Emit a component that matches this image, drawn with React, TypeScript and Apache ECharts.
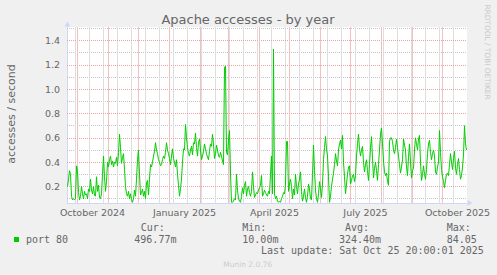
import React, { useEffect, useRef } from "react";
import * as echarts from "echarts";

// ---- data ----
const START_UTC = Date.UTC(2024, 8, 21); // first daily sample: 21 Sep 2024
const DAY_MS = 86400000;

const accesses: number[] = [
  0.20, 0.26, 0.33, 0.30, 0.12, 0.09, 0.10, 0.09, 0.10, 0.37,
  0.33, 0.15, 0.09, 0.12, 0.20, 0.14, 0.10, 0.16, 0.13, 0.14,
  0.10, 0.18, 0.16, 0.26, 0.17, 0.14, 0.20, 0.13, 0.12, 0.28,
  0.16, 0.21, 0.11, 0.10, 0.14, 0.30, 0.45, 0.28, 0.16, 0.24,
  0.40, 0.36, 0.42, 0.45, 0.38, 0.41, 0.36, 0.40, 0.39, 0.44,
  0.37, 0.48, 0.63, 0.52, 0.39, 0.44, 0.47, 0.34, 0.20, 0.14,
  0.12, 0.16, 0.10, 0.14, 0.09, 0.07, 0.10, 0.17, 0.12, 0.26,
  0.42, 0.50, 0.30, 0.13, 0.15, 0.18, 0.12, 0.16, 0.10, 0.23,
  0.25, 0.13, 0.26, 0.38, 0.36, 0.40, 0.45, 0.49, 0.56, 0.50,
  0.47, 0.42, 0.40, 0.37, 0.38, 0.42, 0.45, 0.43, 0.48, 0.56,
  0.50, 0.47, 0.43, 0.38, 0.45, 0.51, 0.43, 0.40, 0.36, 0.42,
  0.30, 0.21, 0.12, 0.18, 0.26, 0.40, 0.51, 0.50, 0.71, 0.60,
  0.52, 0.47, 0.45, 0.50, 0.53, 0.46, 0.56, 0.55, 0.64, 0.52,
  0.45, 0.56, 0.59, 0.50, 0.42, 0.45, 0.49, 0.55, 0.51, 0.47,
  0.44, 0.42, 0.49, 0.55, 0.53, 0.63, 0.55, 0.43, 0.47, 0.54,
  0.50, 0.45, 0.44, 0.48, 0.45, 0.41, 0.38, 1.18, 1.19, 0.48,
  0.46, 0.58, 0.66, 0.31, 0.07, 0.07, 0.08, 0.10, 0.09, 0.30,
  0.17, 0.10, 0.08, 0.07, 0.12, 0.19, 0.14, 0.21, 0.24, 0.12,
  0.18, 0.20, 0.15, 0.12, 0.16, 0.32, 0.20, 0.11, 0.13, 0.15,
  0.14, 0.17, 0.19, 0.21, 0.29, 0.12, 0.14, 0.17, 0.15, 0.13,
  0.12, 0.16, 0.14, 0.30, 0.45, 0.14, 1.33, 0.14, 0.10, 0.12,
  0.08, 0.07, 0.08, 0.07, 0.10, 0.12, 0.15, 0.14, 0.22, 0.57,
  0.57, 0.16, 0.22, 0.26, 0.20, 0.10, 0.18, 0.13, 0.30, 0.20,
  0.14, 0.22, 0.26, 0.32, 0.16, 0.08, 0.12, 0.18, 0.11, 0.07,
  0.12, 0.22, 0.18, 0.10, 0.09, 0.30, 0.54, 0.33, 0.17, 0.10,
  0.07, 0.14, 0.24, 0.18, 0.11, 0.22, 0.42, 0.52, 0.61, 0.51,
  0.45, 0.28, 0.07, 0.12, 0.20, 0.26, 0.31, 0.38, 0.47, 0.41,
  0.37, 0.50, 0.55, 0.58, 0.51, 0.62, 0.40, 0.28, 0.14, 0.22,
  0.30, 0.36, 0.37, 0.22, 0.25, 0.29, 0.30, 0.24, 0.29, 0.45,
  0.55, 0.63, 0.51, 0.45, 0.50, 0.53, 0.40, 0.32, 0.38, 0.42,
  0.33, 0.25, 0.38, 0.52, 0.61, 0.43, 0.27, 0.35, 0.40, 0.33,
  0.25, 0.38, 0.50, 0.63, 0.68, 0.55, 0.41, 0.32, 0.29, 0.31,
  0.24, 0.21, 0.57, 0.60, 0.60, 0.57, 0.50, 0.47, 0.52, 0.59,
  0.52, 0.45, 0.38, 0.31, 0.36, 0.42, 0.59, 0.54, 0.50, 0.36,
  0.29, 0.44, 0.55, 0.40, 0.27, 0.33, 0.35, 0.50, 0.60, 0.55,
  0.50, 0.59, 0.62, 0.40, 0.25, 0.30, 0.37, 0.30, 0.26, 0.34,
  0.47, 0.55, 0.58, 0.48, 0.42, 0.47, 0.50, 0.45, 0.32, 0.30,
  0.36, 0.40, 0.66, 0.48, 0.34, 0.28, 0.24, 0.19, 0.25, 0.30,
  0.31, 0.29, 0.38, 0.47, 0.40, 0.34, 0.43, 0.49, 0.35, 0.30,
  0.38, 0.43, 0.34, 0.26, 0.29, 0.36, 0.46, 0.70, 0.55, 0.50,
];

const yTickValues = [0.2, 0.4, 0.6, 0.8, 1.0, 1.2, 1.4];
const yMinorValues = [0.1, 0.3, 0.5, 0.7, 0.9, 1.1, 1.3, 1.5];
const labelMonths: [number, number][] = [
  [2024, 9],
  [2025, 0],
  [2025, 3],
  [2025, 6],
  [2025, 9],
];
const MONTH_NAMES = [
  "January", "February", "March", "April", "May", "June",
  "July", "August", "September", "October", "November", "December",
];

const titleText = "Apache accesses - by year";
const yAxisTitle = "accesses / second";
const watermark = "RRDTOOL / TOBI OETIKER";
const legendName = "port 80";
const statHeaders = ["Cur:", "Min:", "Avg:", "Max:"];
const statValues = ["496.77m", "10.00m", "324.40m", "84.05"];
const lastUpdate = "Last update: Sat Oct 25 20:00:01 2025";
const versionText = "Munin 2.0.76";

// ---- helpers ----
const dayOf = (y: number, m: number, d: number) =>
  Math.round((Date.UTC(y, m, d) - START_UTC) / DAY_MS);

const monthLineDays: number[] = [];
for (let y = 2024, m = 9; y < 2025 || (y === 2025 && m <= 9); ) {
  monthLineDays.push(dayOf(y, m, 1));
  m++;
  if (m > 11) {
    m = 0;
    y++;
  }
}
const weekLineDays: number[] = [];
for (let d = dayOf(2024, 8, 15) + 14; d < accesses.length; d += 14) {
  if (!monthLineDays.includes(d)) weekLineDays.push(d);
}
const labelDays = labelMonths.map(([y, m]) => dayOf(y, m, 1) + 15);
const labelTextByDay: Record<number, string> = {};
labelMonths.forEach(([y, m], i) => {
  labelTextByDay[labelDays[i]] = `${MONTH_NAMES[m]} ${y}`;
});

const X_MIN = -0.5;
const X_MAX = 399.5;
const Y_MIN = 0.0644;
const Y_MAX = 1.511;

const FONT = "DejaVu Sans";
const MONO = "DejaVu Sans Mono";
const TEXT_COLOR = "#666666";
const AXIS_COLOR = "#CFD6F8";
const GRID_GRAY = "#c4c4c4";
const GRID_RED = "#eba2a2";
const VGRID_GRAY = "#dedede";
const VGRID_RED = "#f2c0c0";

export default function App() {
  const ref = useRef<HTMLDivElement>(null);

  useEffect(() => {
    if (!ref.current) return;
    const chart = echarts.init(ref.current, undefined, { renderer: "svg" });

    const dotted = (color: string) => ({ color, width: 1, type: [1, 1] as number[] });
    const solid = (color: string) => ({ color, width: 1, type: "solid" });
    const markData: any[] = [
      ...yMinorValues.map((v) => ({ yAxis: v, lineStyle: dotted(GRID_GRAY) })),
      ...weekLineDays.map((d) => ({ xAxis: d, lineStyle: solid(VGRID_GRAY) })),
      ...yTickValues.map((v) => ({ yAxis: v, lineStyle: dotted(GRID_RED) })),
      ...monthLineDays.map((d) => ({ xAxis: d, lineStyle: solid(VGRID_RED) })),
    ];

    const lineData = accesses.map((v, i) => [i, v]);

    const txt = (
      text: string,
      x: number,
      y: number,
      opts: { size?: number; family?: string; align?: string; color?: string; rotation?: number } = {}
    ) => ({
      type: "text",
      x,
      y,
      rotation: opts.rotation ?? 0,
      silent: true,
      style: {
        text,
        fill: opts.color ?? TEXT_COLOR,
        fontSize: opts.size ?? 10,
        fontFamily: opts.family ?? FONT,
        align: opts.align ?? "left",
        verticalAlign: "middle",
        textAlign: opts.align ?? "left",
        textVerticalAlign: "middle",
      },
    });

    const headerX = [140.7, 242.3, 345, 446.7];
    const valueX = [134.3, 242.3, 339, 446.7];

    chart.setOption({
      animation: false,
      backgroundColor: "#F0F0F0",
      grid: {
        left: 67,
        top: 27,
        width: 400,
        height: 176,
        show: true,
        backgroundColor: "#FFFFFF",
        borderWidth: 0,
      },
      xAxis: {
        type: "value",
        min: X_MIN,
        max: X_MAX,
        axisLine: {
          show: true,
          onZero: false,
          lineStyle: { color: AXIS_COLOR, width: 1 },
          symbol: ["none", "triangle"],
          symbolSize: [6, 5],
          symbolOffset: [0, 3],
        },
        axisTick: { show: false },
        splitLine: { show: false },
        axisLabel: {
          customValues: labelDays,
          formatter: (v: number) => labelTextByDay[Math.round(v)] ?? "",
          color: TEXT_COLOR,
          fontSize: 9.5,
          fontFamily: FONT,
          margin: 9,
          verticalAlign: "middle",
        },
      },
      yAxis: {
        type: "value",
        min: Y_MIN,
        max: Y_MAX,
        axisLine: {
          show: true,
          lineStyle: { color: AXIS_COLOR, width: 1 },
          symbol: ["none", "triangle"],
          symbolSize: [6, 5],
          symbolOffset: [0, 3],
        },
        axisTick: { show: false },
        splitLine: { show: false },
        axisLabel: {
          customValues: yTickValues,
          formatter: (v: number) => v.toFixed(1),
          color: TEXT_COLOR,
          fontSize: 9.5,
          fontFamily: FONT,
          margin: 7,
        },
      },
      series: [
        {
          type: "line",
          name: "grid",
          data: lineData,
          silent: true,
          showSymbol: false,
          lineStyle: { opacity: 0, width: 0 },
          z: 1,
          markLine: {
            silent: true,
            z: 1,
            symbol: ["none", "none"],
            label: { show: false },
            emphasis: { disabled: true },
            animation: false,
            data: markData,
          },
        },
        {
          type: "line",
          name: legendName,
          data: lineData,
          showSymbol: false,
          symbol: "none",
          silent: true,
          z: 10,
          lineStyle: { color: "#00CC00", width: 1 },
        },
      ],
      graphic: [
        txt(titleText, 248, 19.5, { size: 13, align: "center" }),
        txt(yAxisTitle, 11, 114, { size: 11, align: "center", rotation: Math.PI / 2 }),
        txt(watermark, 487, 52, { size: 7.4, align: "center", color: "#c9c9c9", rotation: -Math.PI / 2 }),
        {
          type: "rect",
          shape: { x: 14, y: 237, width: 5, height: 5 },
          style: { fill: "#00CC00" },
          silent: true,
        },
        txt(legendName, 26, 239, { family: MONO }),
        ...statHeaders.map((h, i) => txt(h, headerX[i], 227.2, { family: MONO })),
        ...statValues.map((v, i) => txt(v, valueX[i], 239, { family: MONO })),
        txt(lastUpdate, 261, 250.8, { family: MONO }),
        txt(versionText, 247.7, 264.5, { size: 7.5, align: "center", color: "#cccccc" }),
      ],
    });

    return () => chart.dispose();
  }, []);

  return (
    <div
      ref={ref}
      style={{ position: "fixed", left: 0, top: 0, width: 497, height: 275 }}
    />
  );
}
